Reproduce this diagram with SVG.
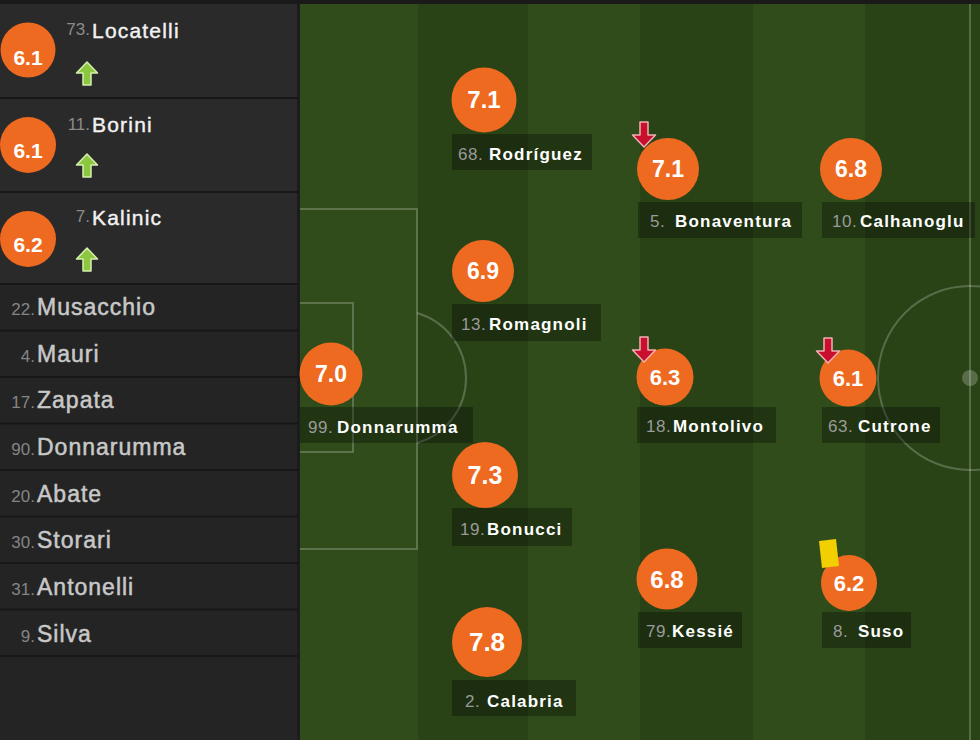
<svg xmlns="http://www.w3.org/2000/svg" width="980" height="740" viewBox="0 0 980 740">
<style>
.sub-bg{fill:#2a2a2a}
.list-bg{fill:#242424}
.sep{stroke:#171717;stroke-width:2}
.rate{fill:#ef6a21}
.rt{font-family:"Liberation Sans",Arial,sans-serif;font-weight:bold;fill:#fff;text-anchor:middle}
.subnum{font-family:"Liberation Sans",Arial,sans-serif;font-size:17px;fill:#8a8a8a;text-anchor:end}
.subname{font-family:"Liberation Sans",Arial,sans-serif;font-size:21px;fill:#f2f2f2;stroke:#f2f2f2;stroke-width:0.4;letter-spacing:1.2px}
.lnum{font-family:"Liberation Sans",Arial,sans-serif;font-size:17px;fill:#858585;text-anchor:end}
.lname{font-family:"Liberation Sans",Arial,sans-serif;font-size:23px;fill:#c8c8c8;stroke:#c8c8c8;stroke-width:0.5;letter-spacing:1px}
.lab{fill:#000;fill-opacity:0.3}
.pnum{font-family:"Liberation Sans",Arial,sans-serif;font-size:17px;fill:#9a9a9a;letter-spacing:0.5px}
.pname{font-family:"Liberation Sans",Arial,sans-serif;font-size:17px;font-weight:bold;fill:#fff;letter-spacing:1.2px}
.line{fill:none;stroke:#ffffff;stroke-opacity:0.22;stroke-width:2}
.light{fill:#304c1b}
.dark{fill:#294316}
</style>
<defs>
<path id="up" d="M0,0 L10.5,11 L4,11 L4,23 L-4,23 L-4,11 L-10.5,11 Z" fill="#8dc63f" stroke="#d6efb0" stroke-width="1.5" stroke-linejoin="round"/>
<path id="down" d="M-4,0 H4 V13 H11.5 L0,25 L-11.5,13 H-4 Z" fill="#c8102e" stroke="#f0b0b4" stroke-width="1.5" stroke-linejoin="round"/>
</defs>

<!-- pitch -->
<g id="pitch">
<rect class="light" x="300" y="0" width="118" height="740"/>
<rect class="dark" x="418" y="0" width="110" height="740"/>
<rect class="light" x="528" y="0" width="112" height="740"/>
<rect class="dark" x="640" y="0" width="113" height="740"/>
<rect class="light" x="753" y="0" width="112" height="740"/>
<rect class="dark" x="865" y="0" width="115" height="740"/>
<path class="line" d="M300,209 H417 V549 H300"/>
<path class="line" d="M300,303 H353 V452 H300"/>
<path class="line" d="M417,313 A67.6,67.6 0 0 1 417,443"/>
<path class="line" d="M970,4 V740"/>
<circle class="line" cx="970" cy="378" r="92"/>
<circle cx="970" cy="378" r="8" fill="#ffffff" fill-opacity="0.22"/>
</g>

<!-- left panel -->
<g id="panel">
<rect class="sub-bg" x="0" y="0" width="298" height="284"/>
<rect class="list-bg" x="0" y="284" width="298" height="456"/>
<rect x="297" y="0" width="3" height="740" fill="#1c1c1c"/>
<line class="sep" x1="0" y1="98" x2="298" y2="98"/>
<line class="sep" x1="0" y1="192" x2="298" y2="192"/>
<line class="sep" x1="0" y1="284" x2="298" y2="284"/>
<line class="sep" x1="0" y1="330.5" x2="298" y2="330.5"/>
<line class="sep" x1="0" y1="377" x2="298" y2="377"/>
<line class="sep" x1="0" y1="423.5" x2="298" y2="423.5"/>
<line class="sep" x1="0" y1="470" x2="298" y2="470"/>
<line class="sep" x1="0" y1="516.5" x2="298" y2="516.5"/>
<line class="sep" x1="0" y1="563" x2="298" y2="563"/>
<line class="sep" x1="0" y1="609.5" x2="298" y2="609.5"/>
<line class="sep" x1="0" y1="656" x2="298" y2="656"/>
</g>
<rect x="0" y="0" width="980" height="4" fill="#1a1a1a"/>

<!-- substitutes -->
<g id="sub-locatelli">
<circle class="rate" cx="28" cy="50" r="27.5"/>
<text class="rt" x="28" y="65" font-size="21">6.1</text>
<text class="subnum" x="90" y="35">73.</text>
<text class="subname" x="92" y="38">Locatelli</text>
<use href="#up" x="87" y="62"/>
</g>
<g id="sub-borini">
<circle class="rate" cx="28" cy="145" r="28"/>
<text class="rt" x="28" y="158" font-size="21">6.1</text>
<text class="subnum" x="90" y="130">11.</text>
<text class="subname" x="92" y="132">Borini</text>
<use href="#up" x="87" y="154"/>
</g>
<g id="sub-kalinic">
<circle class="rate" cx="28" cy="239" r="28"/>
<text class="rt" x="28" y="252" font-size="21">6.2</text>
<text class="subnum" x="90" y="222">7.</text>
<text class="subname" x="92" y="225">Kalinic</text>
<use href="#up" x="87" y="248"/>
</g>

<!-- bench -->
<g id="bench-musacchio"><text class="lnum" x="35" y="315">22.</text><text class="lname" x="37" y="315">Musacchio</text></g>
<g id="bench-mauri"><text class="lnum" x="35" y="362">4.</text><text class="lname" x="37" y="362">Mauri</text></g>
<g id="bench-zapata"><text class="lnum" x="35" y="408">17.</text><text class="lname" x="37" y="408">Zapata</text></g>
<g id="bench-donnarumma"><text class="lnum" x="35" y="455">90.</text><text class="lname" x="37" y="455">Donnarumma</text></g>
<g id="bench-abate"><text class="lnum" x="35" y="502">20.</text><text class="lname" x="37" y="502">Abate</text></g>
<g id="bench-storari"><text class="lnum" x="35" y="548">30.</text><text class="lname" x="37" y="548">Storari</text></g>
<g id="bench-antonelli"><text class="lnum" x="35" y="595">31.</text><text class="lname" x="37" y="595">Antonelli</text></g>
<g id="bench-silva"><text class="lnum" x="35" y="642">9.</text><text class="lname" x="37" y="642">Silva</text></g>

<!-- players on pitch -->
<g id="p-rodriguez">
<circle class="rate" cx="484" cy="100" r="32.5"/>
<text class="rt" x="484" y="108" font-size="24">7.1</text>
<rect class="lab" x="452" y="134" width="140" height="36"/>
<text class="pnum" x="458" y="160">68.</text><text class="pname" x="489" y="160">Rodríguez</text>
</g>
<g id="p-bonaventura">
<circle class="rate" cx="668" cy="169" r="31"/>
<text class="rt" x="668" y="177" font-size="23">7.1</text>
<rect class="lab" x="638" y="202" width="164" height="36"/>
<text class="pnum" x="650" y="227">5.</text><text class="pname" x="675" y="227">Bonaventura</text>
<use href="#down" x="644" y="122"/>
</g>
<g id="p-calhanoglu">
<circle class="rate" cx="851" cy="169" r="31"/>
<text class="rt" x="851" y="177" font-size="23">6.8</text>
<rect class="lab" x="822" y="202" width="153" height="36"/>
<text class="pnum" x="832" y="227">10.</text><text class="pname" x="860" y="227">Calhanoglu</text>
</g>
<g id="p-romagnoli">
<circle class="rate" cx="483" cy="271" r="31"/>
<text class="rt" x="483" y="279" font-size="23">6.9</text>
<rect class="lab" x="452" y="304" width="149" height="37"/>
<text class="pnum" x="461" y="330">13.</text><text class="pname" x="489" y="330">Romagnoli</text>
</g>
<g id="p-donnarumma">
<circle class="rate" cx="331" cy="374" r="31.5"/>
<text class="rt" x="331" y="382" font-size="23">7.0</text>
<rect class="lab" x="300" y="407" width="173" height="36"/>
<text class="pnum" x="308" y="433">99.</text><text class="pname" x="337" y="433">Donnarumma</text>
</g>
<g id="p-montolivo">
<circle class="rate" cx="665" cy="377" r="28.5"/>
<text class="rt" x="665" y="385" font-size="22">6.3</text>
<rect class="lab" x="637" y="407" width="139" height="36"/>
<text class="pnum" x="646" y="432">18.</text><text class="pname" x="673" y="432">Montolivo</text>
<use href="#down" x="644" y="337"/>
</g>
<g id="p-cutrone">
<circle class="rate" cx="848" cy="378" r="28.5"/>
<text class="rt" x="848" y="386" font-size="22">6.1</text>
<rect class="lab" x="822" y="407" width="118" height="36"/>
<text class="pnum" x="828" y="432">63.</text><text class="pname" x="858" y="432">Cutrone</text>
<use href="#down" x="828" y="338"/>
</g>
<g id="p-bonucci">
<circle class="rate" cx="485" cy="475" r="33"/>
<text class="rt" x="485" y="484" font-size="25">7.3</text>
<rect class="lab" x="452" y="508" width="120" height="38"/>
<text class="pnum" x="460" y="535">19.</text><text class="pname" x="487" y="535">Bonucci</text>
</g>
<g id="p-kessie">
<circle class="rate" cx="667" cy="579" r="30.5"/>
<text class="rt" x="667" y="588" font-size="24">6.8</text>
<rect class="lab" x="638" y="612" width="104" height="36"/>
<text class="pnum" x="646" y="637">79.</text><text class="pname" x="672" y="637">Kessié</text>
</g>
<g id="p-suso">
<circle class="rate" cx="849" cy="583" r="28"/>
<text class="rt" x="849" y="591" font-size="22">6.2</text>
<polygon points="819,541 836,539 839,566 822,568" fill="#f2cf00"/>
<rect class="lab" x="822" y="612" width="89" height="36"/>
<text class="pnum" x="833" y="637">8.</text><text class="pname" x="858" y="637">Suso</text>
</g>
<g id="p-calabria">
<circle class="rate" cx="487" cy="642" r="35"/>
<text class="rt" x="487" y="651" font-size="26">7.8</text>
<rect class="lab" x="452" y="680" width="124" height="36"/>
<text class="pnum" x="465" y="707">2.</text><text class="pname" x="487" y="707">Calabria</text>
</g>
</svg>
